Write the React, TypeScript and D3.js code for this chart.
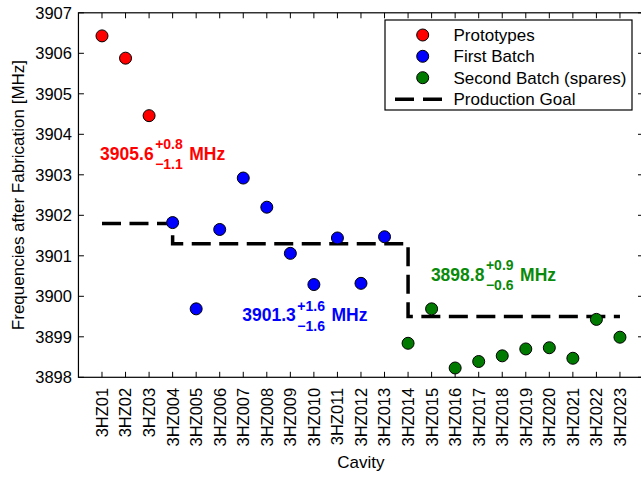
import React, { useEffect, useRef } from "react";
import * as d3 from "d3";

const cavities = [
  "3HZ01", "3HZ02", "3HZ03", "3HZ004", "3HZ005", "3HZ006", "3HZ007", "3HZ008",
  "3HZ009", "3HZ010", "3HZ011", "3HZ012", "3HZ013", "3HZ014", "3HZ015", "3HZ016",
  "3HZ017", "3HZ018", "3HZ019", "3HZ020", "3HZ021", "3HZ022", "3HZ023",
];
const prototypeIdx = [1, 2, 3];
const prototypeValues = [3906.43, 3905.88, 3904.46];
const firstBatchIdx = [4, 5, 6, 7, 8, 9, 10, 11, 12, 13];
const firstBatchValues = [3901.82, 3899.69, 3901.65, 3902.92, 3902.2, 3901.06, 3900.29, 3901.44, 3900.32, 3901.47];
const secondBatchIdx = [14, 15, 16, 17, 18, 19, 20, 21, 22, 23];
const secondBatchValues = [3898.84, 3899.69, 3898.23, 3898.39, 3898.53, 3898.7, 3898.73, 3898.47, 3899.43, 3898.99];
const goalIdx = [1, 4, 4, 14, 14, 23];
const goalValues = [3901.8, 3901.8, 3901.3, 3901.3, 3899.5, 3899.5];
const yTicks = [3898, 3899, 3900, 3901, 3902, 3903, 3904, 3905, 3906, 3907];
const legendLabels = ["Prototypes", "First Batch", "Second Batch (spares)", "Production Goal"];
const annCenters = ["3905.6", "3901.3", "3898.8"];
const annPlus = ["+0.8", "+1.6", "+0.9"];
const annMinus = ["\u22121.1", "\u22121.6", "\u22120.6"];
const annAtX = [0.92, 6.96, 14.97];
const annAtY = [3903.37, 3899.38, 3900.38];
const annColors = ["#ff0000", "#0000ff", "#0a8a0a"];

const W = 641;
const H = 477;
const FONT = "'Liberation Sans', Arial, Helvetica, sans-serif";

export default function App() {
  const ref = useRef<SVGSVGElement | null>(null);

  useEffect(() => {
    const svg = d3.select(ref.current);
    svg.selectAll("*").remove();

    const x = d3.scaleLinear().domain([0, 24]).range([78.45, 643.5]);
    const y = d3.scaleLinear().domain([3898, 3907]).range([377.3, 12.8]);
    const [x0, x1] = x.range();
    const [yb, yt] = y.range();

    // Axes box
    svg.append("rect")
      .attr("x", x0).attr("y", yt).attr("width", x1 - x0).attr("height", yb - yt)
      .attr("fill", "white").attr("stroke", "black").attr("stroke-width", 1.2);

    // Ticks (inward)
    const tk = svg.append("g").attr("stroke", "black").attr("stroke-width", 1);
    d3.range(1, 24).forEach((i) => {
      tk.append("line").attr("x1", x(i)).attr("x2", x(i)).attr("y1", yb).attr("y2", yb - 5.5);
      tk.append("line").attr("x1", x(i)).attr("x2", x(i)).attr("y1", yt).attr("y2", yt + 5.5);
    });
    yTicks.forEach((v) => {
      tk.append("line").attr("x1", x0).attr("x2", x0 + 5.5).attr("y1", y(v)).attr("y2", y(v));
      tk.append("line").attr("x1", x1).attr("x2", x1 - 5.5).attr("y1", y(v)).attr("y2", y(v));
    });

    // Y tick labels
    svg.append("g").selectAll("text").data(yTicks).join("text")
      .attr("x", x0 - 6.5).attr("y", (d) => y(d)).attr("dy", "0.36em")
      .attr("text-anchor", "end").attr("font-family", FONT).attr("font-size", 16.5)
      .attr("fill", "black").text((d) => String(d));

    // X tick labels
    svg.append("g").selectAll("text").data(cavities).join("text")
      .attr("transform", (_d, i) => `translate(${x(i + 1)},${yb + 10.5}) rotate(-90)`)
      .attr("dy", "0.36em").attr("text-anchor", "end")
      .attr("font-family", FONT).attr("font-size", 16.5).attr("fill", "black")
      .text((d) => d);

    // Axis labels
    svg.append("text").attr("x", (x0 + x1) / 2).attr("y", 468)
      .attr("text-anchor", "middle").attr("font-family", FONT).attr("font-size", 17)
      .text("Cavity");
    svg.append("text").attr("transform", `translate(23.5,${(yb + yt) / 2}) rotate(-90)`)
      .attr("text-anchor", "middle").attr("font-family", FONT).attr("font-size", 17)
      .text("Frequencies after Fabrication [MHz]");

    // Production goal
    const line = d3.line<number>().x((_d, i) => x(goalIdx[i])).y((d) => y(d));
    svg.append("path").attr("d", line(goalValues) || "")
      .attr("fill", "none").attr("stroke", "black").attr("stroke-width", 3.5)
      .attr("stroke-dasharray", "19 8.5");

    // Points
    const drawPts = (idx: number[], vals: number[], color: string) => {
      svg.append("g").selectAll("circle").data(vals).join("circle")
        .attr("cx", (_d, i) => x(idx[i])).attr("cy", (d) => y(d)).attr("r", 6)
        .attr("fill", color).attr("stroke", "black").attr("stroke-width", 1);
    };
    drawPts(prototypeIdx, prototypeValues, "#ff0000");
    drawPts(firstBatchIdx, firstBatchValues, "#0000ff");
    drawPts(secondBatchIdx, secondBatchValues, "#007a00");

    // Annotations
    annCenters.forEach((c, k) => {
      const ax = x(annAtX[k]);
      const ay = y(annAtY[k]);
      const g = svg.append("g").attr("fill", annColors[k]).attr("font-family", FONT).attr("font-weight", "bold");
      const main = g.append("text").attr("x", ax).attr("y", ay).attr("font-size", 17.5).text(c);
      const mw = (main.node() as SVGTextElement).getComputedTextLength();
      const sx = ax + mw + 1.5;
      const sup = g.append("text").attr("x", sx).attr("y", ay - 10.5).attr("font-size", 14).text(annPlus[k]);
      const sub = g.append("text").attr("x", sx).attr("y", ay + 9.5).attr("font-size", 14).text(annMinus[k]);
      const w2 = Math.max(
        (sup.node() as SVGTextElement).getComputedTextLength(),
        (sub.node() as SVGTextElement).getComputedTextLength()
      );
      g.append("text").attr("x", sx + w2 + 6.5).attr("y", ay).attr("font-size", 17.5).text("MHz");
    });

    // Legend
    const lg = svg.append("g");
    lg.append("rect").attr("x", 385).attr("y", 20).attr("width", 247).attr("height", 90)
      .attr("fill", "white").attr("stroke", "black").attr("stroke-width", 1.2);
    const rowY = [35, 56.3, 77.7, 99.2];
    const colors = ["#ff0000", "#0000ff", "#007a00"];
    legendLabels.forEach((lab, i) => {
      if (i < 3) {
        lg.append("circle").attr("cx", 422.7).attr("cy", rowY[i]).attr("r", 6)
          .attr("fill", colors[i]).attr("stroke", "black").attr("stroke-width", 1);
      } else {
        lg.append("line").attr("x1", 395).attr("x2", 443).attr("y1", rowY[i]).attr("y2", rowY[i])
          .attr("stroke", "black").attr("stroke-width", 3.5).attr("stroke-dasharray", "19 9");
      }
      lg.append("text").attr("x", 453.5).attr("y", rowY[i]).attr("dy", "0.36em")
        .attr("font-family", FONT).attr("font-size", 17).text(lab);
    });
  }, []);

  return (
    <svg
      ref={ref}
      width={W}
      height={H}
      style={{ position: "absolute", left: 0, top: 0, background: "white" }}
    />
  );
}
